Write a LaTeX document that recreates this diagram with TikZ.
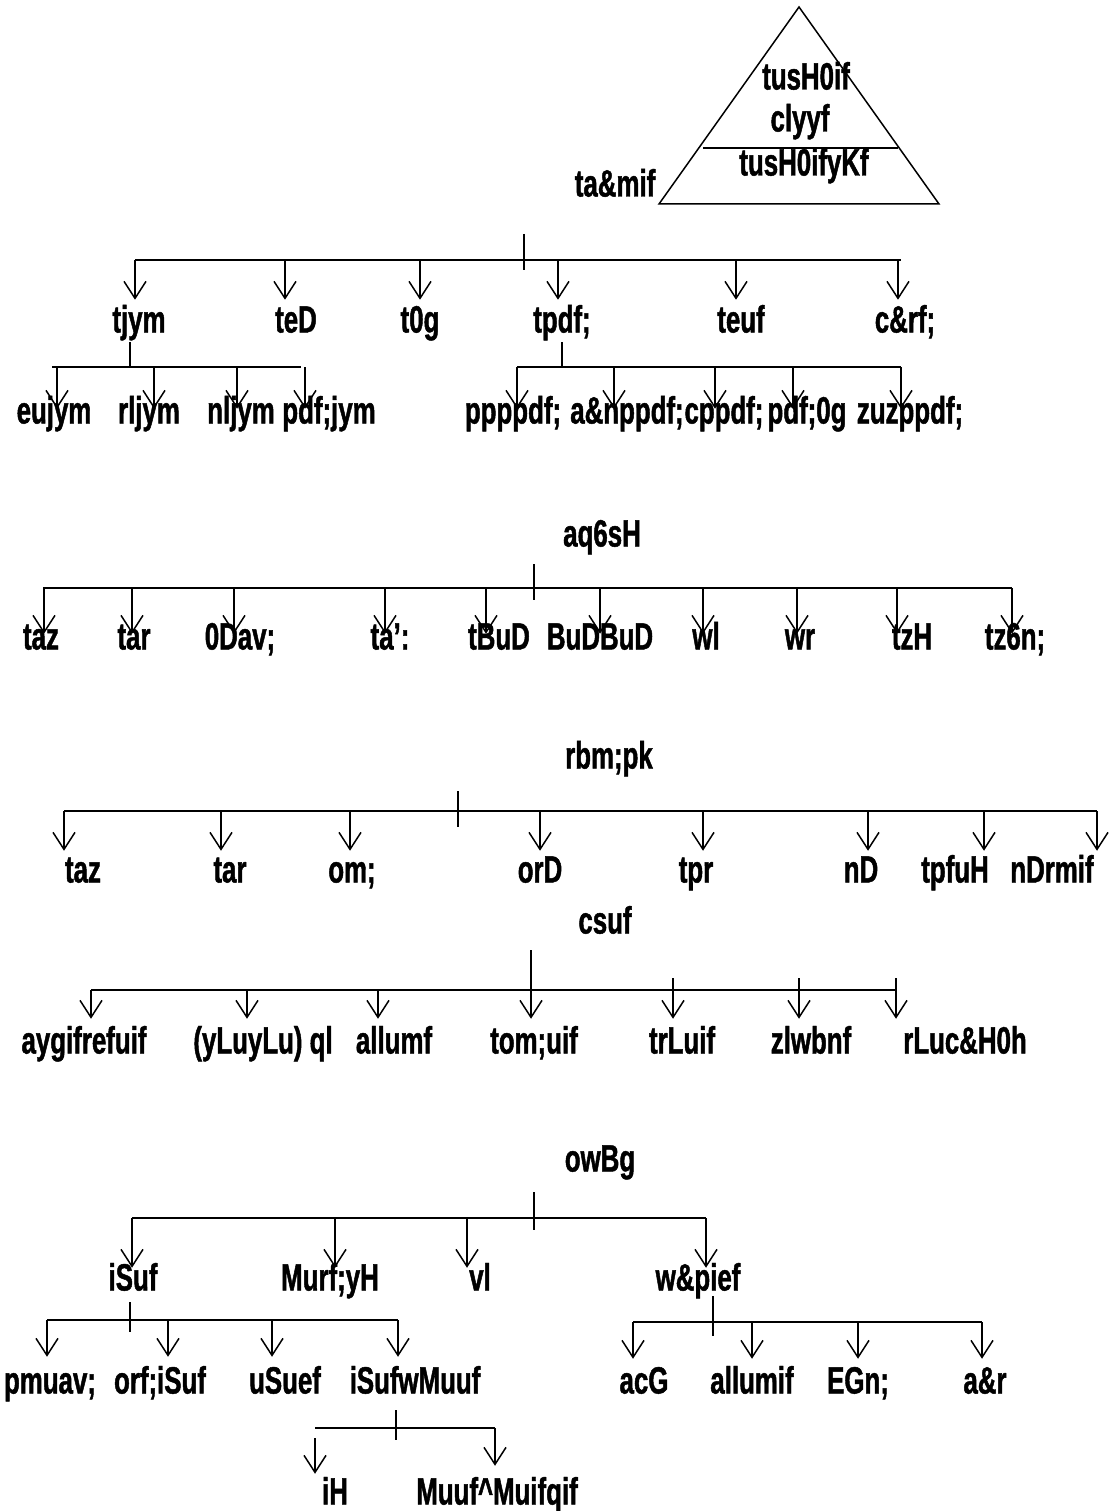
\documentclass[tikz,border=0pt]{standalone}
\usepackage{fontspec}
\setmainfont{Liberation Sans}[FakeStretch=0.68, BoldFont={Liberation Sans Bold}, BoldFeatures={FakeBold=1.2}]
\usetikzlibrary{arrows.meta}

\begin{document}
\begin{tikzpicture}[x=1pt, y=-1pt, line width=1.5pt,
  lbl/.style={font=\fontsize{38}{40}\selectfont\bfseries, inner sep=1pt,
    text height=27pt, text depth=8pt},
  tip/.style={-{Straight Barb[length=17pt, width=22pt, line width=1.5pt]}},
  bar/.style={line width=2pt}]
  \useasboundingbox (0,0) rectangle (1110,1511);

  % Pyramid
  \coordinate (apex) at (799,7);
  \coordinate (bl) at (659,204);
  \coordinate (br) at (939,204);
  \coordinate (ml) at (703,148);
  \coordinate (mr) at (898,148);
  \draw (apex) -- (br) -- (bl) -- cycle;
  \draw (ml) -- (mr);
  \node[lbl] (p1) at (806,80) {tusH0if};
  \node[lbl] (p2) at (800,122) {clyyf};
  \node[lbl] (p3) at (804,166) {tusH0ifyKf};
  \node[lbl, anchor=east] (p0) at (657,187) {ta\&mif};

  % Tree 1
  \coordinate (a-top) at (524,234);
  \coordinate (a-bot) at (524,270);
  \coordinate (a-l) at (135,260);
  \coordinate (a-r) at (901,260);
  \draw (a-top) -- (a-bot);
  \draw[bar] (a-l) -- (a-r);
  \node[lbl] (a1) at (139,323) {tjym};
  \node[lbl] (a2) at (296,323) {teD};
  \node[lbl] (a3) at (420,323) {t0g};
  \node[lbl] (a4) at (562,323) {tpdf;};
  \node[lbl] (a5) at (741,323) {teuf};
  \node[lbl] (a6) at (905,323) {c\&rf;};
  \foreach \x/\n in {135/a1, 285/a2, 420/a3, 558/a4, 736/a5, 898/a6} {
    \coordinate (s-\n) at (\x,260);
    \draw[tip, shorten >=4pt] (s-\n) -- (s-\n |- \n.north);
  }

  % tjym
  \coordinate (b-l) at (52,367);
  \coordinate (b-r) at (301,367);
  \draw (a1.south -| 130,0) -- (130,367);
  \draw[bar] (b-l) -- (b-r);
  \node[lbl] (b1) at (54,414) {eujym};
  \node[lbl] (b2) at (149,414) {rljym};
  \node[lbl] (b3) at (241,414) {nljym};
  \node[lbl] (b4) at (329,414) {pdf;jym};
  \foreach \x/\n in {57/b1, 154/b2, 237/b3, 305/b4} {
    \coordinate (s-\n) at (\x,367);
    \draw[tip, shorten >=-14pt] (s-\n) -- (s-\n |- \n.north);
  }

  % tpdf;
  \coordinate (c-l) at (517,367);
  \coordinate (c-r) at (901,367);
  \draw (a4.south -| 562,0) -- (562,367);
  \draw[bar] (c-l) -- (c-r);
  \node[lbl] (c1) at (513,414) {ppppdf;};
  \node[lbl] (c2) at (627,414) {a\&nppdf;};
  \node[lbl] (c3) at (724,414) {cppdf;};
  \node[lbl] (c4) at (807,414) {pdf;0g};
  \node[lbl] (c5) at (910,414) {zuzppdf;};
  \foreach \x/\n in {517/c1, 614/c2, 715/c3, 793/c4, 901/c5} {
    \coordinate (s-\n) at (\x,367);
    \draw[tip, shorten >=-14pt] (s-\n) -- (s-\n |- \n.north);
  }

  % Tree 2
  \node[lbl] (d0) at (602,537) {aq6sH};
  \coordinate (d-top) at (534,564);
  \coordinate (d-bot) at (534,600);
  \coordinate (d-l) at (43,588);
  \coordinate (d-r) at (1012,588);
  \draw (d-top) -- (d-bot);
  \draw[bar] (d-l) -- (d-r);
  \node[lbl] (d1) at (41,640) {taz};
  \node[lbl] (d2) at (134,640) {tar};
  \node[lbl] (d3) at (240,640) {0Dav;};
  \node[lbl] (d4) at (390,640) {ta':};
  \node[lbl] (d5) at (499,640) {tBuD};
  \node[lbl] (d6) at (600,640) {BuDBuD};
  \node[lbl] (d7) at (706,640) {wl};
  \node[lbl] (d8) at (800,640) {wr};
  \node[lbl] (d9) at (912,640) {tzH};
  \node[lbl] (d10) at (1015,640) {tz6n;};
  \foreach \x/\n in {44/d1, 132/d2, 234/d3, 385/d4, 486/d5, 600/d6, 703/d7, 797/d8, 897/d9, 1012/d10} {
    \coordinate (s-\n) at (\x,588);
    \draw[tip, shorten >=-13pt] (s-\n) -- (s-\n |- \n.north);
  }

  % Tree 3
  \node[lbl] (e0) at (609,759) {rbm;pk};
  \coordinate (e-top) at (458,791);
  \coordinate (e-bot) at (458,827);
  \coordinate (e-l) at (64,811);
  \coordinate (e-r) at (1097,811);
  \draw (e-top) -- (e-bot);
  \draw[bar] (e-l) -- (e-r);
  \node[lbl] (e1) at (83,873) {taz};
  \node[lbl] (e2) at (230,873) {tar};
  \node[lbl] (e3) at (352,873) {om;};
  \node[lbl] (e4) at (540,873) {orD};
  \node[lbl] (e5) at (696,873) {tpr};
  \node[lbl] (e6) at (861,873) {nD};
  \node[lbl] (e7) at (955,873) {tpfuH};
  \node[lbl] (e8) at (1052,873) {nDrmif};
  \foreach \x/\n in {64/e1, 221/e2, 350/e3, 540/e4, 703/e5, 868/e6, 984/e7, 1097/e8} {
    \coordinate (s-\n) at (\x,811);
    \draw[tip, shorten >=3pt] (s-\n) -- (s-\n |- \n.north);
  }

  % Tree 4
  \node[lbl] (f0) at (605,924) {csuf};
  \coordinate (f-top) at (531,950);
  \coordinate (f-l) at (91,990);
  \coordinate (f-r) at (896,990);
  \draw[bar] (f-l) -- (f-r);
  \node[lbl] (f1) at (84,1044) {aygifrefuif};
  \node[lbl] (f2) at (263,1044) {(yLuyLu) ql};
  \node[lbl] (f3) at (394,1044) {allumf};
  \node[lbl] (f4) at (534,1044) {tom;uif};
  \node[lbl] (f5) at (682,1044) {trLuif};
  \node[lbl] (f6) at (811,1044) {zlwbnf};
  \node[lbl] (f7) at (965,1044) {rLuc\&H0h};
  \draw[tip, shorten >=6pt] (f-top) -- (f-top |- f4.north);
  \foreach \x/\n in {91/f1, 247/f2, 378/f3} {
    \coordinate (s-\n) at (\x,990);
    \draw[tip, shorten >=6pt] (s-\n) -- (s-\n |- \n.north);
  }
  \foreach \x/\n in {673/f5, 799/f6, 896/f7} {
    \coordinate (s-\n) at (\x,978);
    \draw[tip, shorten >=6pt] (s-\n) -- (s-\n |- \n.north);
  }

  % Tree 5
  \node[lbl] (g0) at (600,1162) {owBg};
  \coordinate (g-top) at (534,1192);
  \coordinate (g-bot) at (534,1230);
  \coordinate (g-l) at (132,1218);
  \coordinate (g-r) at (706,1218);
  \draw (g-top) -- (g-bot);
  \draw[bar] (g-l) -- (g-r);
  \node[lbl] (g1) at (133,1281) {iSuf};
  \node[lbl] (g2) at (330,1281) {Murf;yH};
  \node[lbl] (g3) at (480,1281) {vl};
  \node[lbl] (g4) at (698,1281) {w\&pief};
  \foreach \x/\n in {132/g1, 335/g2, 467/g3, 706/g4} {
    \coordinate (s-\n) at (\x,1218);
    \draw[tip, shorten >=-6pt] (s-\n) -- (s-\n |- \n.north);
  }

  % iSuf
  \coordinate (h-top) at (130,1302);
  \coordinate (h-bot) at (130,1332);
  \coordinate (h-l) at (47,1320);
  \coordinate (h-r) at (398,1320);
  \draw (h-top) -- (h-bot);
  \draw[bar] (h-l) -- (h-r);
  \node[lbl] (h1) at (50,1384) {pmuav;};
  \node[lbl] (h2) at (160,1384) {orf;iSuf};
  \node[lbl] (h3) at (285,1384) {uSuef};
  \node[lbl] (h4) at (415,1384) {iSufwMuuf};
  \foreach \x/\n in {47/h1, 168/h2, 272/h3, 398/h4} {
    \coordinate (s-\n) at (\x,1320);
    \draw[tip, shorten >=8pt] (s-\n) -- (s-\n |- \n.north);
  }

  % iSufwMuuf
  \coordinate (i-top) at (396,1410);
  \coordinate (i-bot) at (396,1440);
  \coordinate (i-l) at (315,1428);
  \coordinate (i-r) at (495,1428);
  \coordinate (i-s) at (315,1438);
  \draw (i-top) -- (i-bot);
  \draw[bar] (i-l) -- (i-r);
  \node[lbl] (i1) at (335,1495) {iH};
  \node[lbl] (i2) at (497,1495) {Muuf\textasciicircum Muifqif};
  \draw[tip, shorten >=2pt] (i-s) -- (i-s |- i1.north);
  \draw[tip, shorten >=10pt] (i-r) -- (i-r |- i2.north);

  % w&pief
  \coordinate (j-top) at (713,1296);
  \coordinate (j-bot) at (713,1336);
  \coordinate (j-l) at (633,1322);
  \coordinate (j-r) at (982,1322);
  \draw (j-top) -- (j-bot);
  \draw[bar] (j-l) -- (j-r);
  \node[lbl] (j1) at (644,1384) {acG};
  \node[lbl] (j2) at (752,1384) {allumif};
  \node[lbl] (j3) at (858,1384) {EGn;};
  \node[lbl] (j4) at (985,1384) {a\&r};
  \foreach \x/\n in {633/j1, 752/j2, 858/j3, 982/j4} {
    \coordinate (s-\n) at (\x,1322);
    \draw[tip, shorten >=6pt] (s-\n) -- (s-\n |- \n.north);
  }
\end{tikzpicture}
\end{document}
